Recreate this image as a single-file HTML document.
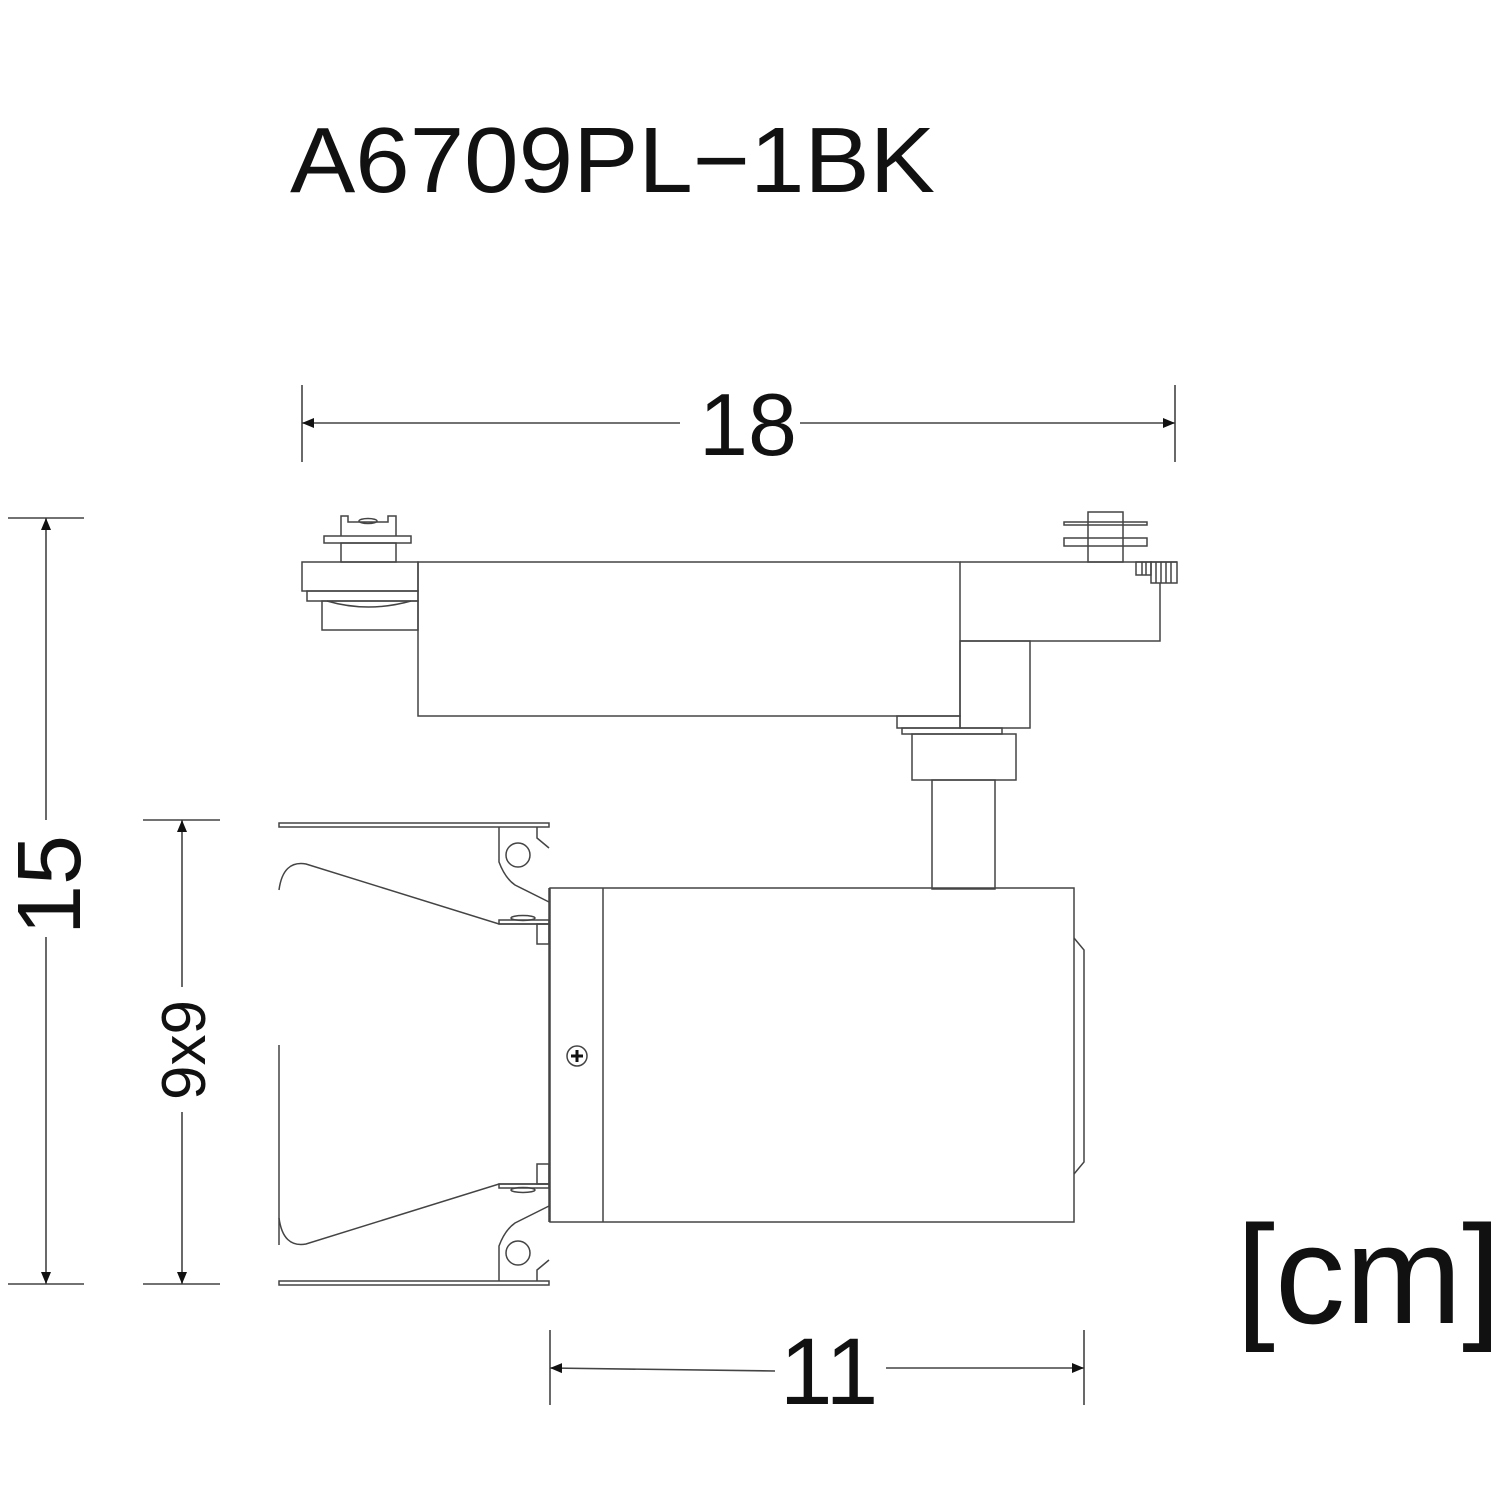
<!DOCTYPE html>
<html><head><meta charset="utf-8"><style>html,body{margin:0;padding:0;background:#fff}svg{display:block}</style></head>
<body>
<svg width="1500" height="1500" viewBox="0 0 1500 1500" xmlns="http://www.w3.org/2000/svg" font-family="Liberation Sans, Arial, sans-serif">
<defs>
<marker id="ar" viewBox="0 0 12 12" refX="12" refY="6" markerWidth="12" markerHeight="12" markerUnits="userSpaceOnUse" orient="auto"><path d="M0,1 L12,6 L0,11 Z" fill="#111"/></marker>
</defs>
<text x="290" y="192" font-size="93" fill="#111" textLength="645" lengthAdjust="spacingAndGlyphs">A6709PL−1BK</text>
<g fill="none" stroke="#444" stroke-width="1.6">
<line x1="302" y1="385" x2="302" y2="462"/><line x1="1175" y1="385" x2="1175" y2="462"/>
<line x1="680" y1="423" x2="302" y2="423" marker-end="url(#ar)"/>
<line x1="800" y1="423" x2="1175" y2="423" marker-end="url(#ar)"/>
<line x1="8" y1="518" x2="84" y2="518"/><line x1="8" y1="1284" x2="84" y2="1284"/>
<line x1="46" y1="820" x2="46" y2="518" marker-end="url(#ar)"/>
<line x1="46" y1="937" x2="46" y2="1284" marker-end="url(#ar)"/>
<line x1="143" y1="820" x2="220" y2="820"/><line x1="143" y1="1284" x2="220" y2="1284"/>
<line x1="182" y1="987" x2="182" y2="820" marker-end="url(#ar)"/>
<line x1="182" y1="1112" x2="182" y2="1284" marker-end="url(#ar)"/>
<line x1="550" y1="1330" x2="550" y2="1405"/><line x1="1084" y1="1330" x2="1084" y2="1405"/>
<line x1="775" y1="1371" x2="550" y2="1368" marker-end="url(#ar)"/>
<line x1="886" y1="1368" x2="1084" y2="1368" marker-end="url(#ar)"/>
</g>
<text x="748" y="455" font-size="88" text-anchor="middle" fill="#111">18</text>
<text transform="translate(80,885) rotate(-90)" font-size="90" text-anchor="middle" fill="#111">15</text>
<text transform="translate(205,1050) rotate(-90)" font-size="62" text-anchor="middle" fill="#111">9x9</text>
<text x="829" y="1404" font-size="95" text-anchor="middle" fill="#111">11</text>
<text x="1236" y="1323" font-size="140" fill="#111" textLength="265" lengthAdjust="spacingAndGlyphs">[cm]</text>

<g fill="none" stroke="#444" stroke-width="1.5">
<rect x="418" y="562" width="542" height="154"/>
<rect x="302" y="562" width="116" height="29"/>
<rect x="307" y="591" width="111" height="10"/>
<rect x="322" y="601" width="96" height="29"/>
<path d="M327,601 Q368,613 411,601"/>
<path d="M341,536 V516 H348 V522 H388 V516 H396 V536"/>
<ellipse cx="368" cy="521" rx="9" ry="2.5"/>
<rect x="324" y="536" width="87" height="7"/>
<rect x="341" y="543" width="55" height="19"/>
<rect x="1088" y="512" width="35" height="50"/>
<rect x="1064" y="522" width="83" height="3"/>
<rect x="1064" y="538" width="83" height="8"/>
<path d="M960,562 H1177 M1160,583 V641 H960"/>
<rect x="1136" y="562" width="15" height="13"/>
<rect x="1151" y="562" width="26" height="21"/>
<path d="M1142,562V575M1146,562V575M1156,562V583M1161,562V583M1166,562V583M1171,562V583"/>
<rect x="960" y="641" width="70" height="87"/>
<rect x="897" y="716" width="63" height="12"/>
<rect x="902" y="728" width="100" height="6"/>
<rect x="912" y="734" width="104" height="46"/>
<rect x="932" y="780" width="63" height="109"/>
<rect x="550" y="888" width="524" height="334"/>
<line x1="603" y1="888" x2="603" y2="1222"/>
<path d="M1074,938 L1084,950 V1162 L1074,1174"/>
<circle cx="577" cy="1056" r="10"/>
<line x1="549" y1="888" x2="549" y2="1222"/>
<line x1="279" y1="1045" x2="279" y2="1245"/>
<g id="door">
<rect x="279" y="823" width="270" height="4"/>
<path d="M499,827 V862 Q505,878 515,885 L549,902"/>
<path d="M537,827 V838 L549,848"/>
<circle cx="518" cy="855" r="12"/>
<path d="M549,924 H499 L306,864 Q283,860 279,890"/>
<rect x="499" y="920" width="50" height="4"/>
<ellipse cx="523" cy="918" rx="12" ry="2.5"/>
<rect x="537" y="924" width="12" height="20"/>
</g>
<use href="#door" transform="translate(0,2108) scale(1,-1)"/>
</g>
<path d="M571,1056 H583 M577,1050 V1062" stroke="#111" stroke-width="3"/>
</svg>
</body></html>
